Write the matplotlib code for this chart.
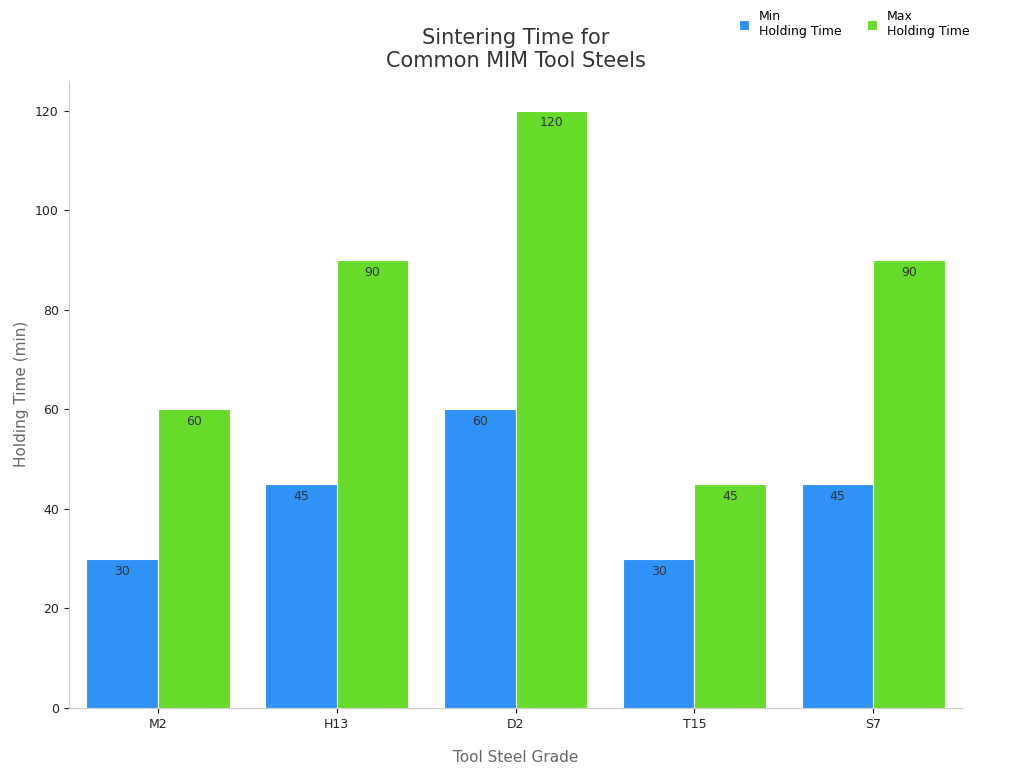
import numpy as np
import matplotlib.pyplot as plt

grades = ["M2", "H13", "D2", "T15", "S7"]
min_hold = [30, 45, 60, 30, 45]
max_hold = [60, 90, 120, 45, 90]

fig, ax = plt.subplots(figsize=(10.24, 7.68), dpi=100)
fig.subplots_adjust(left=0.067, right=0.94, top=0.895, bottom=0.078)

x = np.arange(len(grades))
w = 0.4
b1 = ax.bar(x - w/2, min_hold, w, color="#2f92f7", edgecolor="white", lw=0.8, label="Min\nHolding Time")
b2 = ax.bar(x + w/2, max_hold, w, color="#67db2a", edgecolor="white", lw=0.8, label="Max\nHolding Time")
for bars in (b1, b2):
    for r in bars:
        ax.text(r.get_x() + r.get_width()/2, r.get_height() - 1.2, f"{int(r.get_height())}",
                ha="center", va="top", fontsize=9, color="#333333")

ax.set_xticks(x, grades, fontsize=9, color="#222222")
ax.tick_params(axis="y", labelsize=9, colors="#222222")
ax.set_ylim(0, 126)
ax.set_xlim(-0.5, 4.5)
ax.set_xlabel("Tool Steel Grade", fontsize=11, color="#666666", labelpad=14)
ax.set_ylabel("Holding Time (min)", fontsize=11, color="#666666")
for s in ["top", "right"]:
    ax.spines[s].set_visible(False)
for s in ["left", "bottom"]:
    ax.spines[s].set_color("#cccccc")
ax.set_title("Sintering Time for\nCommon MIM Tool Steels", fontsize=15, color="#333333", pad=10)
ax.legend(loc="upper right", bbox_to_anchor=(1.02, 1.13), ncol=2, frameon=False,
          fontsize=9, handlelength=0.8, handleheight=0.8, columnspacing=2)
fig.savefig("out.png")
